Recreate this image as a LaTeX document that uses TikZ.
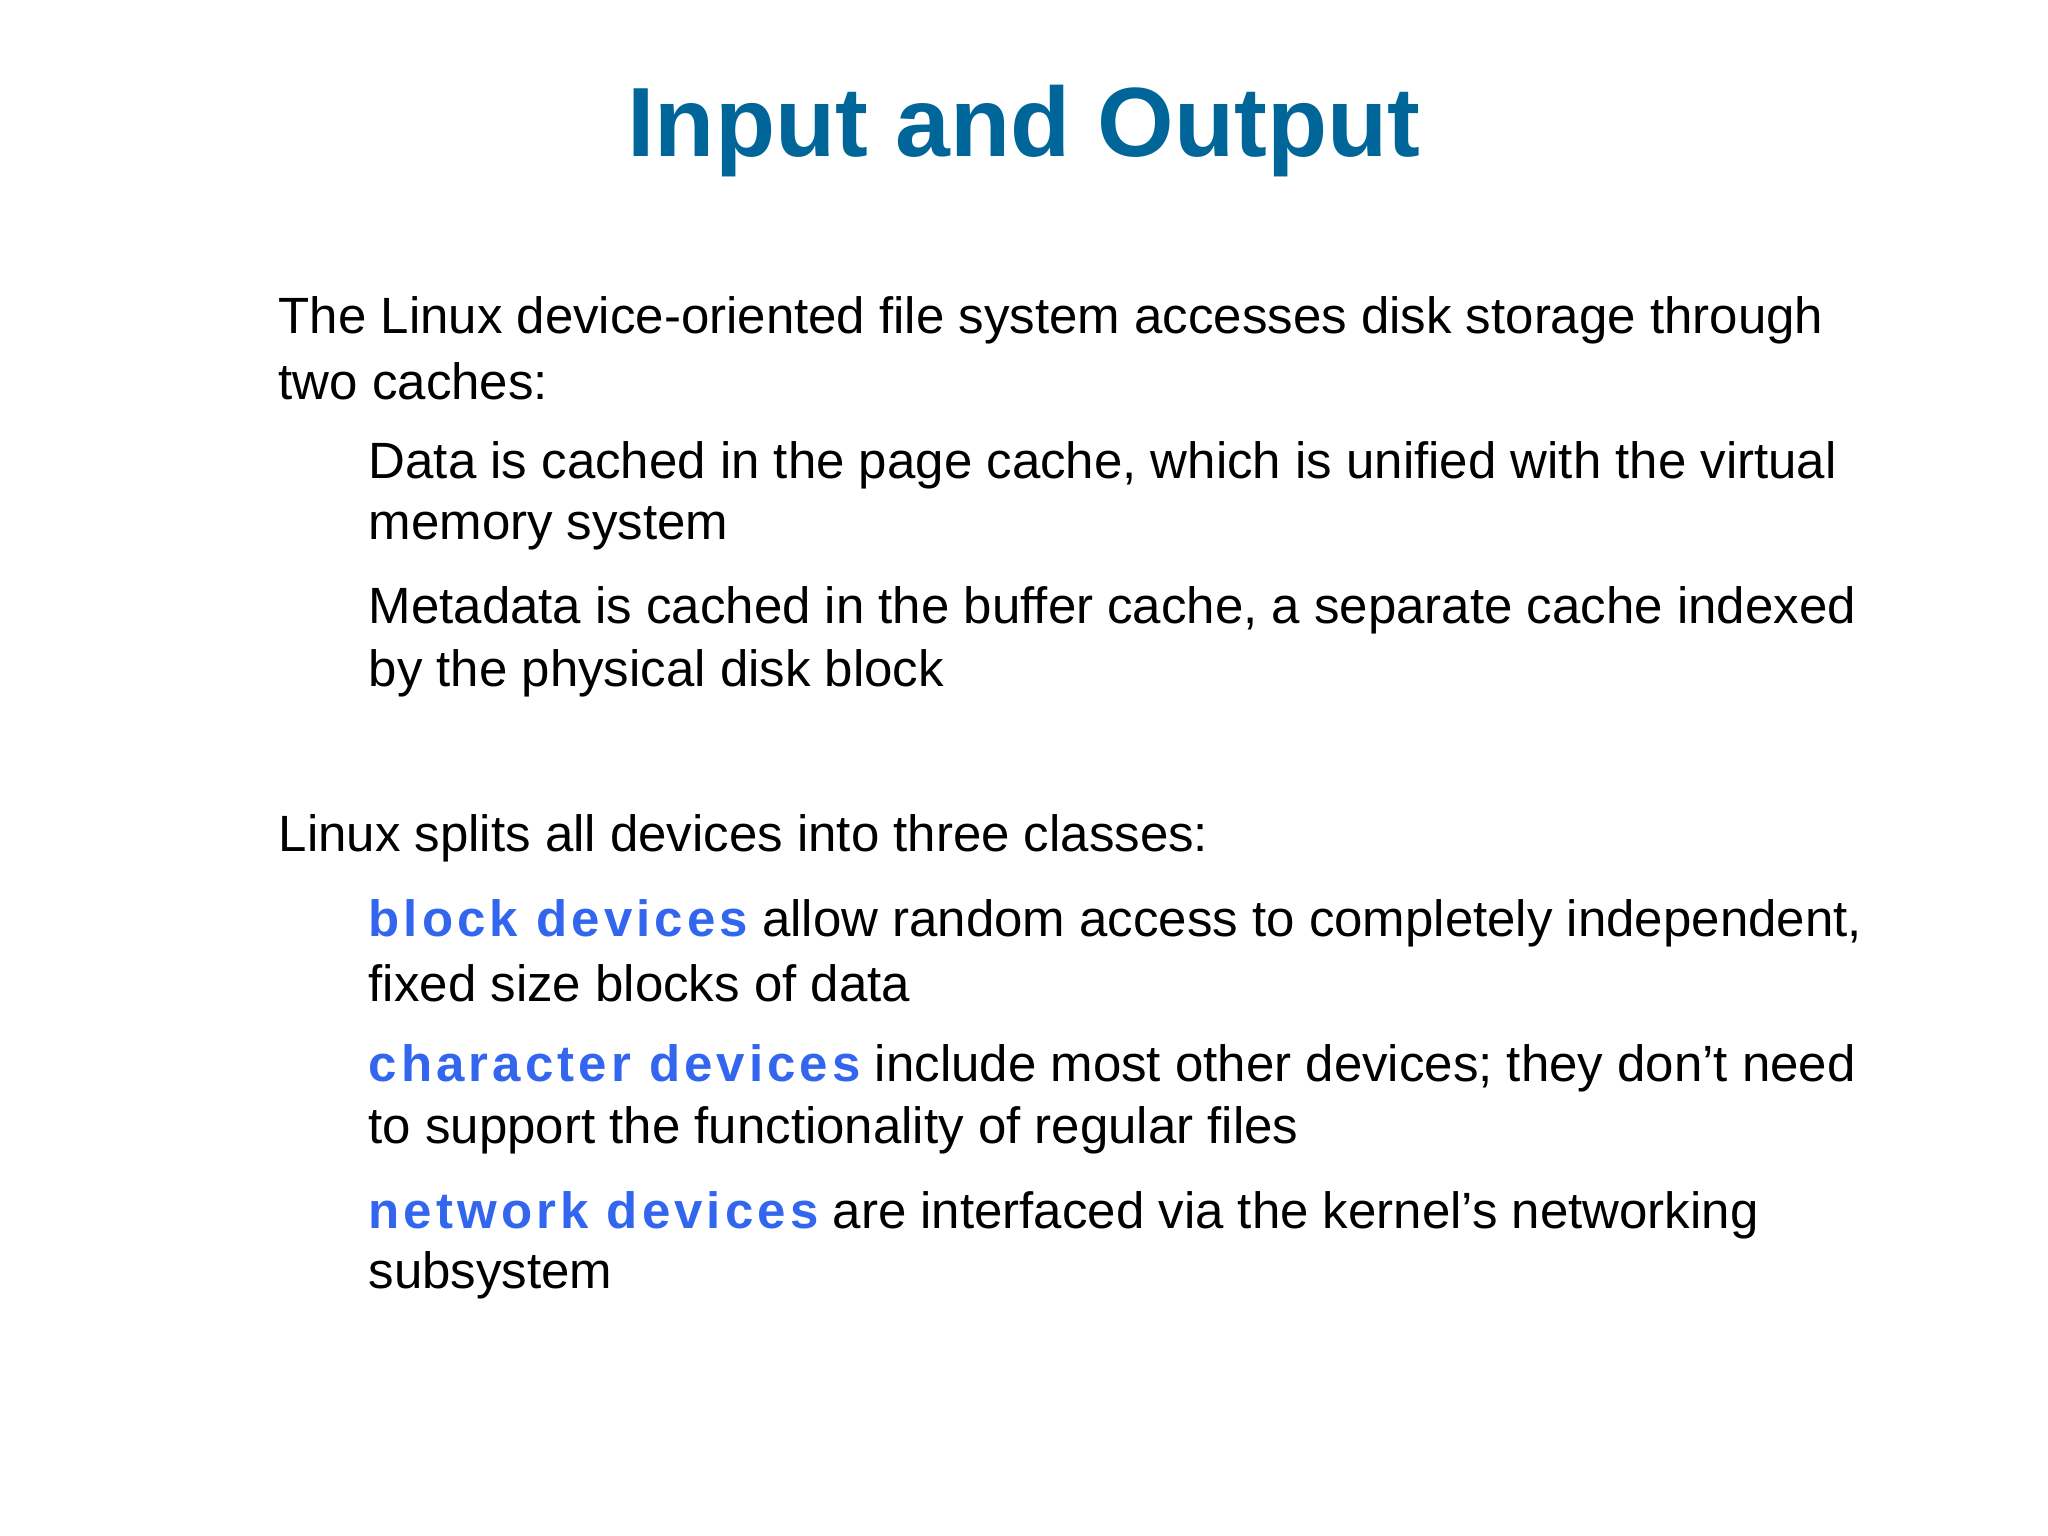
\documentclass[tikz,border=0pt]{standalone}
\usepackage{fontspec}
\setmainfont{Liberation Sans}
\definecolor{titleblue}{HTML}{006699}
\definecolor{keyblue}{HTML}{3366EE}
\newfontfamily\keyfont[LetterSpace=8]{Liberation Sans}
\newcommand{\kw}[1]{{\keyfont\bfseries\color{keyblue}#1}}
\begin{document}
\begin{tikzpicture}[x=0.01cm,y=-0.01cm,
  body/.style={anchor=west,inner sep=0pt,font=\fontsize{14.5pt}{17pt}\selectfont,text=black}]
\useasboundingbox (0,0) rectangle (2048,1536);
\fill[white] (0,0) rectangle (2048,1536);
\node[font=\fontsize{28pt}{32pt}\selectfont\bfseries,text=titleblue,inner sep=0pt] (title) at (1024,131) {Input and Output};
\node[body] (l1) at (278,320) {The Linux device-oriented file system accesses disk storage through};
\node[body] (l2) at (278,381) {two caches:};
\node[body] (l3) at (368,465) {Data is cached in the page cache, which is unified with the virtual};
\node[body] (l4) at (368,528) {memory system};
\node[body] (l5) at (368,610) {Metadata is cached in the buffer cache, a separate cache indexed};
\node[body] (l6) at (368,673) {by the physical disk block};
\node[body] (l7) at (278,838) {Linux splits all devices into three classes:};
\node[body] (l8) at (368,923) {\kw{block devices} allow random access to completely independent,};
\node[body] (l9) at (368,983) {fixed size blocks of data};
\node[body] (l10) at (368,1068) {\kw{character devices} include most other devices; they don’t need};
\node[body] (l11) at (368,1130) {to support the functionality of regular files};
\node[body] (l12) at (368,1215) {\kw{network devices} are interfaced via the kernel’s networking};
\node[body] (l13) at (368,1275) {subsystem};
\end{tikzpicture}
\end{document}
